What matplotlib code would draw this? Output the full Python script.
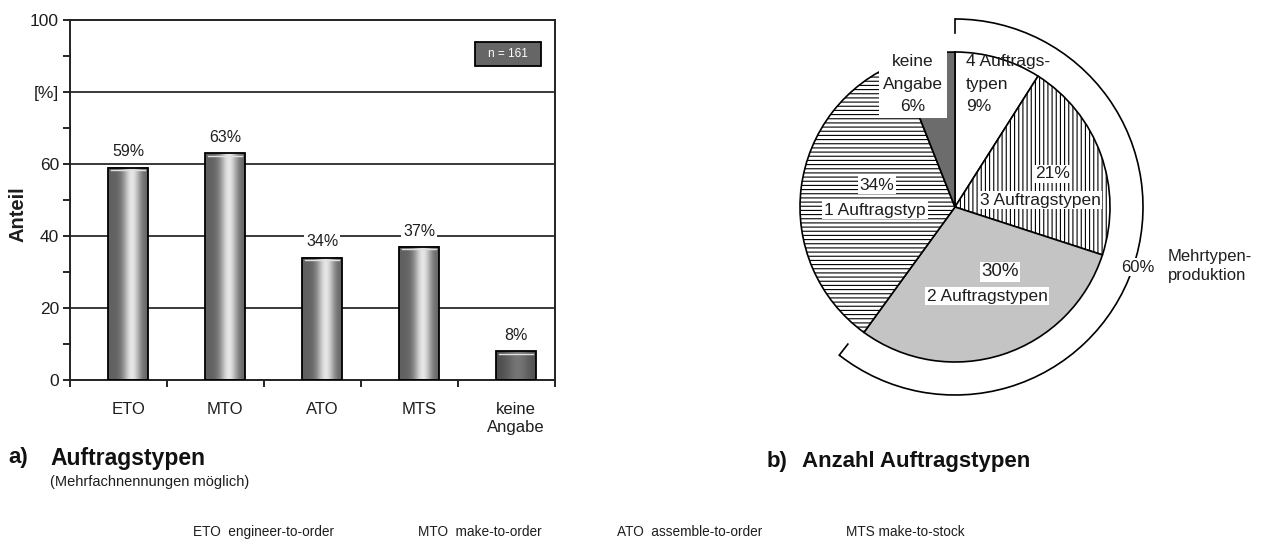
import numpy as np
import matplotlib
matplotlib.use("Agg")
import matplotlib.pyplot as plt
from matplotlib.patches import Arc, Rectangle

plt.rcParams['font.family'] = ['Liberation Sans', 'DejaVu Sans']
plt.rcParams['hatch.linewidth'] = 0.8

# bar chart data (a)
kategorien = ['ETO', 'MTO', 'ATO', 'MTS', 'keine\nAngabe']
anteile = [59, 63, 34, 37, 8]
y_ticks = [0, 20, 40, 60, 80, 100]
y_ticklabels = ['0', '20', '40', '60', '[%]', '100']

# pie chart data (b)
pie_labels = ['4 Auftragstypen', '3 Auftragstypen', '2 Auftragstypen',
              '1 Auftragstyp', 'keine Angabe']
pie_werte = [9, 21, 30, 34, 6]
mehrtypen = 60

legende = ['ETO  engineer-to-order', 'MTO  make-to-order',
           'ATO  assemble-to-order', 'MTS make-to-stock']

W, H = 1274, 546
fig = plt.figure(figsize=(W/100, H/100), dpi=100)
txt = '#1e1e1e'

# ---------- a) bars ----------
ax = fig.add_axes([70/W, 1-380/H, (555-70)/W, 360/H])
x = np.arange(len(anteile))
bw = 0.41

for yy in [20, 40, 60, 80]:
    ax.axhline(yy, color='#3a3a3a', lw=1.4, zorder=1)

prof = np.linspace(0, 1, 60)
for i, h in enumerate(anteile):
    if i == len(anteile)-1:
        g = 0.30 + 0.16*np.exp(-((prof-0.55)/0.3)**2)
    else:
        g = 0.38 + 0.52*np.exp(-((prof-0.6)/0.22)**2)
    ax.imshow(g[None, :], cmap='gray', vmin=0, vmax=1, aspect='auto',
              extent=[i-bw/2, i+bw/2, 0, h], zorder=2, interpolation='bilinear')
    ax.bar(i, h, width=bw, facecolor='none', edgecolor='black', lw=1.3, zorder=3)
    ax.plot([i-bw/2+0.03, i+bw/2-0.03], [h-0.7, h-0.7], color='#e0e0e0', lw=1.0, zorder=3)
    ax.text(i, h+2.3, f'{h}%', ha='center', va='bottom', fontsize=11.5, color=txt,
            bbox=dict(facecolor='white', edgecolor='none', pad=1.5), zorder=4)

ax.set_xlim(-0.6, len(anteile)-0.6)
ax.set_ylim(0, 100)

ax.set_yticks(y_ticks)
ax.set_yticklabels(y_ticklabels, fontsize=12.5, color=txt)
ax.set_yticks([10, 30, 50, 70, 90], minor=True)
ax.tick_params(axis='y', which='both', direction='out', length=5, width=1.2, pad=3)
ax.set_xticks(x)
ax.set_xticklabels(kategorien, fontsize=12, color=txt, linespacing=1.2, va='top')
ax.set_xticks(np.arange(-0.6, len(anteile)-0.5), minor=True)
ax.tick_params(axis='x', which='major', length=0, pad=16)
ax.tick_params(axis='x', which='minor', direction='out', length=5, width=1.2)
for sp in ax.spines.values():
    sp.set_linewidth(1.4)
    sp.set_color('#222222')
ax.set_ylabel('Anteil', fontsize=14.5, fontweight='bold', color=txt)
ax.yaxis.set_label_coords(-0.087, 0.46)

ax.add_patch(Rectangle((0.835, 0.872), 0.136, 0.066, transform=ax.transAxes,
                       facecolor='#666666', edgecolor='black', lw=1.3, zorder=5))
ax.text(0.903, 0.905, 'n = 161', transform=ax.transAxes, ha='center', va='center',
        fontsize=8.5, color='white', zorder=6)

# ---------- b) pie ----------
R = 155.0
cx, cy = 955, 207
S = 230
pax = fig.add_axes([(cx-S)/W, (H-cy-S)/H, 2*S/W, 2*S/H])
farben = ['white', 'white', '#c4c4c4', 'white', '#6c6c6c']
muster = [None, '||||', None, '----', None]
keile, _ = pax.pie(pie_werte, startangle=90, counterclock=False, colors=farben,
                   radius=1.0, wedgeprops=dict(edgecolor='black', linewidth=1.2))
for k, m in zip(keile, muster):
    if m:
        k.set_hatch(m)
pax.set_xlim(-S/R, S/R)
pax.set_ylim(-S/R, S/R)
pax.set_aspect('equal')
pax.axis('off')


def pt(px, py):
    return (px-cx)/R, (cy-py)/R


box = dict(facecolor='white', edgecolor='none', pad=1.2)
fs = 12.5
pax.text(*pt(913, 84), 'keine\nAngabe\n6%', ha='center', va='center', fontsize=fs,
         linespacing=1.6, color=txt,
         bbox=dict(facecolor='white', edgecolor='none', pad=3), zorder=5)
pax.text(*pt(966, 84), '4 Auftrags-\ntypen\n9%', ha='left', va='center', fontsize=fs,
         linespacing=1.6, color=txt, zorder=5)
pax.text(*pt(1053, 174), f'{pie_werte[1]}%', ha='center', va='center', fontsize=fs,
         color=txt, bbox=box, zorder=5)
pax.text(*pt(1040, 200), pie_labels[1], ha='center', va='center', fontsize=fs,
         color=txt, bbox=box, zorder=5)
pax.text(*pt(877, 185), f'{pie_werte[3]}%', ha='center', va='center', fontsize=fs,
         color=txt, bbox=box, zorder=5)
pax.text(*pt(875, 210), pie_labels[3], ha='center', va='center', fontsize=fs,
         color=txt, bbox=box, zorder=5)
pax.text(*pt(1000, 272), f'{pie_werte[2]}%', ha='center', va='center', fontsize=fs+1,
         color=txt, bbox=box, zorder=5)
pax.text(*pt(987, 296), pie_labels[2], ha='center', va='center', fontsize=fs,
         color=txt, bbox=box, zorder=5)

# bracket around the multi-type share
ra = 188/R
ri = 174/R
a_end = 90 - 360*mehrtypen/100 - 2
pax.add_patch(Arc((0, 0), 2*ra, 2*ra, theta1=a_end, theta2=90, color='black', lw=1.2))
for a in [90, a_end]:
    t = np.deg2rad(a)
    pax.plot([ri*np.cos(t), ra*np.cos(t)], [ri*np.sin(t), ra*np.sin(t)], color='black', lw=1.2)
pax.text(*pt(1138, 267), f'{mehrtypen}%', ha='center', va='center', fontsize=12,
         color=txt, bbox=dict(facecolor='white', edgecolor='none', pad=1), zorder=5)
pax.text(*pt(1168, 266), 'Mehrtypen-\nproduktion', ha='left', va='center', fontsize=12,
         linespacing=1.4, color=txt, zorder=5)

# ---------- captions ----------
fig.text(8/W, 1-458/H, 'a)', fontsize=16, fontweight='bold',
         ha='left', va='center', color='#111111')
fig.text(50/W, 1-458/H, 'Auftragstypen', fontsize=16.5, fontweight='bold',
         ha='left', va='center', color='#111111')
fig.text(50/W, 1-482/H, '(Mehrfachnennungen möglich)', fontsize=10.5,
         ha='left', va='center', color=txt)
fig.text(767/W, 1-461/H, 'b)', fontsize=16, fontweight='bold',
         ha='left', va='center', color='#111111')
fig.text(802/W, 1-461/H, 'Anzahl Auftragstypen', fontsize=16, fontweight='bold',
         ha='left', va='center', color='#111111')
for xp, t in zip([193, 418, 617, 846], legende):
    fig.text(xp/W, 1-532/H, t, fontsize=9.8, ha='left', va='center', color=txt)

fig.savefig('out.png', dpi=100)
